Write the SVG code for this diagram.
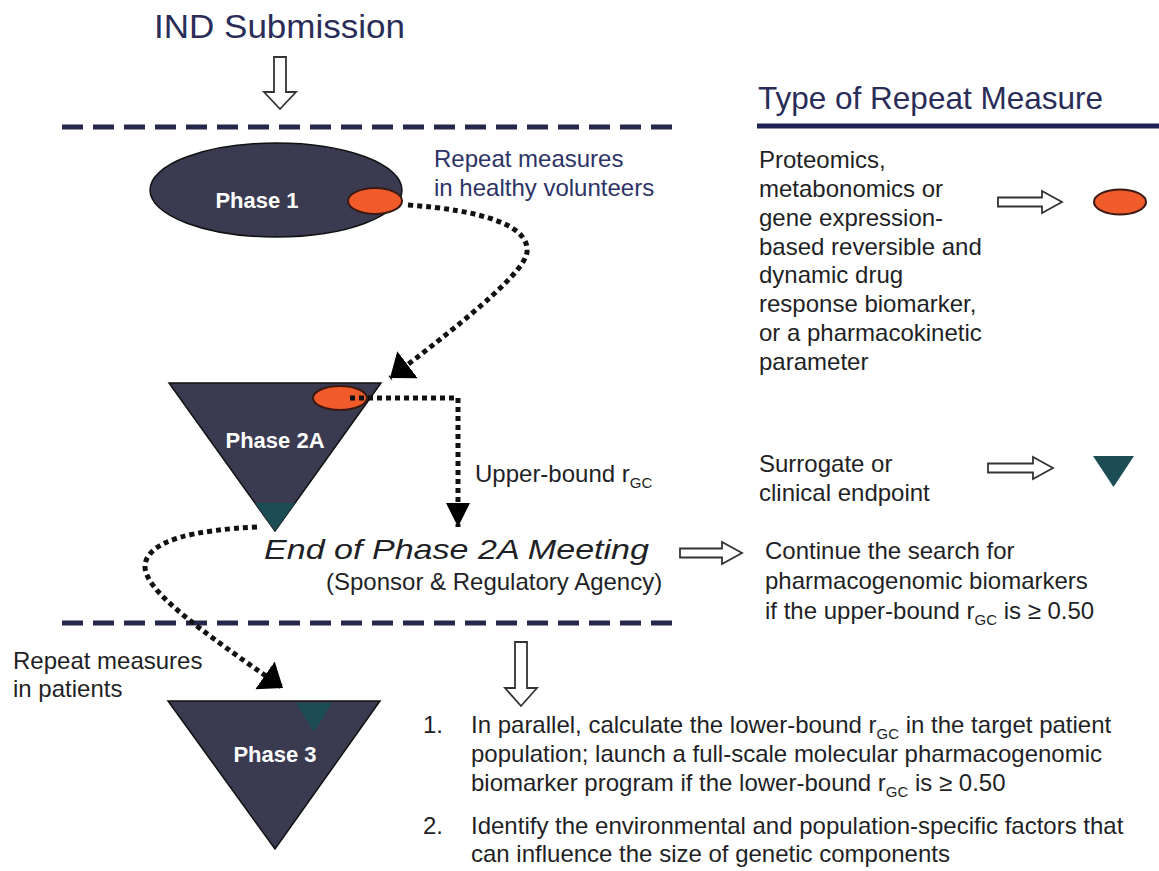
<svg xmlns="http://www.w3.org/2000/svg" width="1159" height="871" viewBox="0 0 1159 871">
<defs>
<style>
.navy{fill:#2a2d58;font-family:"Liberation Sans",Arial,sans-serif}
.body{fill:#1f1f26;font-family:"Liberation Sans",Arial,sans-serif;font-size:24px}
.lbl{fill:#ffffff;font-family:"Liberation Sans",Arial,sans-serif;font-size:22px;font-weight:bold}
.dash{stroke:#25284a;stroke-width:5;stroke-dasharray:21 10;fill:none}
.dots{stroke:#111;stroke-width:5;stroke-dasharray:5 4;fill:none}
.hollow{fill:#fff;stroke:#333;stroke-width:1.8;stroke-linejoin:miter}
.phase{fill:#3a3a50;stroke:#111;stroke-width:1.5}
.orange{fill:#f15a2a;stroke:#3a1a12;stroke-width:2}
.teal{fill:#1c4d54}
.sub{font-size:15px}
</style>
<marker id="ahBig" markerUnits="userSpaceOnUse" markerWidth="22" markerHeight="34" viewBox="0 0 22 34" refX="22" refY="17" orient="auto">
<path d="M0,0 L22,17 L0,34 Z" fill="#000"/>
</marker>
<marker id="ahSmall" markerUnits="userSpaceOnUse" markerWidth="24" markerHeight="24" viewBox="0 0 24 24" refX="24" refY="12" orient="auto">
<path d="M0,0 L24,12 L0,24 Z" fill="#000"/>
</marker>
</defs>
<rect width="1159" height="871" fill="#fff"/>

<g id="title">
<text class="navy" x="154" y="38" font-size="33" textLength="251" lengthAdjust="spacingAndGlyphs">IND Submission</text>
<path class="hollow" d="M274,57 H286 V92 H296 L280,109 L264,92 H274 Z"/>
</g>

<g id="separators">
<line class="dash" x1="62" y1="127" x2="675" y2="127"/>
<line class="dash" x1="62" y1="623" x2="675" y2="623"/>
</g>

<g id="legend">
<text class="navy" x="758" y="109" font-size="32" textLength="345" lengthAdjust="spacingAndGlyphs">Type of Repeat Measure</text>
<line x1="757" y1="126" x2="1159" y2="126" stroke="#1f2352" stroke-width="5"/>
<text class="body" x="759" y="168">
<tspan x="759" y="168">Proteomics,</tspan>
<tspan x="759" y="197">metabonomics or</tspan>
<tspan x="759" y="226">gene expression-</tspan>
<tspan x="759" y="255">based reversible and</tspan>
<tspan x="759" y="283">dynamic drug</tspan>
<tspan x="759" y="312">response biomarker,</tspan>
<tspan x="759" y="341">or a pharmacokinetic</tspan>
<tspan x="759" y="370">parameter</tspan>
</text>
<path class="hollow" d="M998,197.5 H1042 V191 L1062,202 L1042,213 V206.5 H998 Z"/>
<ellipse class="orange" cx="1120" cy="202" rx="26" ry="12.5"/>
<text class="body" x="759" y="472"><tspan x="759" y="472">Surrogate or</tspan><tspan x="759" y="501">clinical endpoint</tspan></text>
<path class="hollow" d="M988,463.5 H1033 V457 L1053,468 L1033,479 V472.5 H988 Z"/>
<polygon class="teal" points="1093,456 1134,456 1113.5,487"/>
</g>

<g id="phase1">
<ellipse class="phase" cx="276" cy="190" rx="126" ry="47"/>
<ellipse class="orange" cx="375" cy="201" rx="27" ry="13"/>
<text class="lbl" x="257" y="208" text-anchor="middle">Phase 1</text>
</g>

<g id="phase1-note">
<text x="434" y="167" fill="#2d3366" font-family="Liberation Sans, Arial, sans-serif" font-size="24"><tspan x="434" y="167">Repeat measures</tspan><tspan x="434" y="196">in healthy volunteers</tspan></text>
</g>

<g id="phase2a">
<polygon class="phase" points="169,383 381,383 275,531"/>
<polygon class="teal" points="255,503 295,503 275,531"/>
<ellipse class="orange" cx="340" cy="398" rx="27" ry="12"/>
<text class="lbl" x="275" y="448" text-anchor="middle">Phase 2A</text>
</g>

<g id="upper-bound">
<text class="body" x="475" y="482">Upper-bound r<tspan class="sub" dy="6">GC</tspan></text>
</g>

<g id="meeting">
<text x="264" y="559" fill="#1f1f26" font-family="Liberation Sans, Arial, sans-serif" font-size="28" font-style="italic" textLength="385" lengthAdjust="spacingAndGlyphs">End of Phase 2A Meeting</text>
<text class="body" x="326" y="590">(Sponsor &amp; Regulatory Agency)</text>
<path class="hollow" d="M680,548.5 H722 V542 L742,553 L722,564 V557.5 H680 Z"/>
</g>

<g id="continue">
<text class="body" x="765" y="559"><tspan x="765" y="559">Continue the search for</tspan><tspan x="765" y="589">pharmacogenomic biomarkers</tspan></text>
<text class="body" x="765" y="619">if the upper-bound r<tspan class="sub" dy="6">GC</tspan><tspan dy="-6"> is ≥ 0.50</tspan></text>
</g>

<g id="phase3-note">
<text class="body" x="13" y="669"><tspan x="13" y="669">Repeat measures</tspan><tspan x="13" y="697">in patients</tspan></text>
</g>

<g id="phase3">
<polygon class="phase" points="168,701 380,701 275,849"/>
<polygon class="teal" points="296,703 332,703 314,732"/>
<text class="lbl" x="275" y="762" text-anchor="middle">Phase 3</text>
</g>

<g id="actions">
<path class="hollow" d="M515,642 H527 V688 H537 L521,706 L505,688 H515 Z"/>
<text class="body" x="423" y="733">1.</text>
<text class="body" x="471" y="733">In parallel, calculate the lower-bound r<tspan class="sub" dy="6">GC</tspan><tspan dy="-6"> in the target patient</tspan></text>
<text class="body" x="471" y="762">population; launch a full-scale molecular pharmacogenomic</text>
<text class="body" x="471" y="791">biomarker program if the lower-bound r<tspan class="sub" dy="6">GC</tspan><tspan dy="-6"> is ≥ 0.50</tspan></text>
<text class="body" x="423" y="834">2.</text>
<text class="body" x="471" y="834">Identify the environmental and population-specific factors that</text>
<text class="body" x="471" y="862">can influence the size of genetic components</text>
</g>

<g id="connectors">
<path class="dots" d="M408,205 C480,210 530,225 527,252 C525,270 480,310 390,378" marker-end="url(#ahBig)"/>
<path class="dots" d="M350,398 H458 V527" marker-end="url(#ahSmall)"/>
<path class="dots" d="M257,527 C195,530 148,540 145,565 C143,590 200,630 283,688" marker-end="url(#ahBig)"/>
</g>
</svg>
